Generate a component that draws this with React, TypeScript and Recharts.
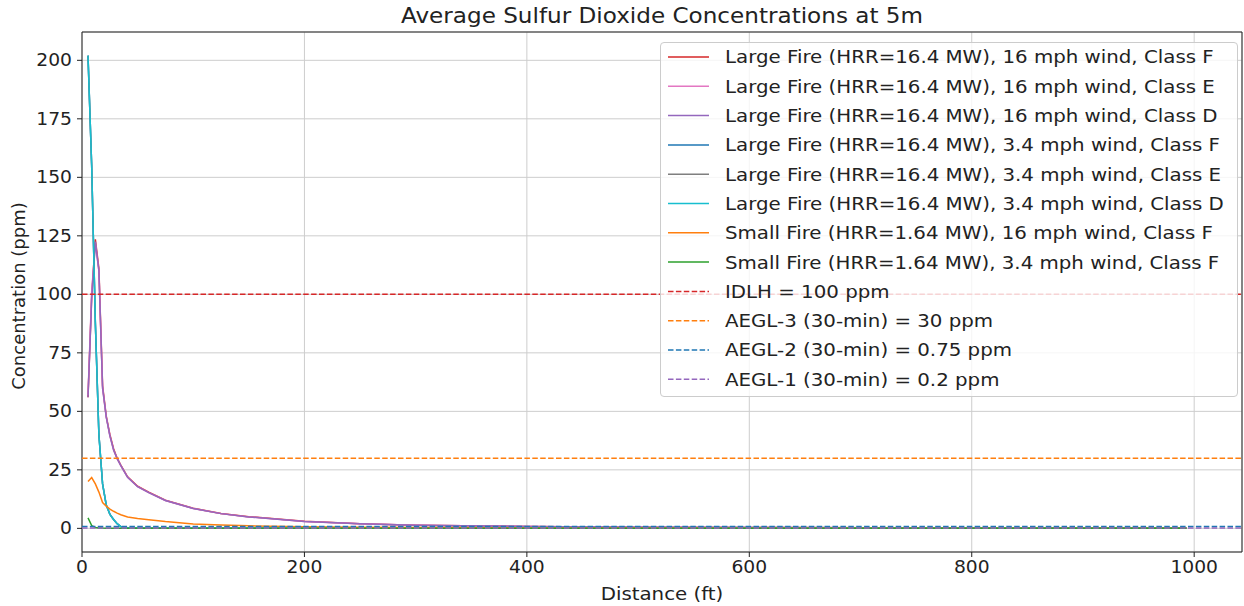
import React from "react";
import {
  LineChart,
  Line,
  XAxis,
  YAxis,
  CartesianGrid,
  Legend,
  ReferenceLine,
  ReferenceArea,
} from "recharts";

// distance from source (ft)
const distances = [
  5.4, 8.7, 12.0, 15.2, 18.5, 21.8, 25.1, 28.4, 31.6, 34.9, 41, 50, 60, 75, 100, 125, 150, 200, 250, 300,
  400, 500, 600, 800, 993,
];

// SO2 concentration (ppm) for each scenario
const largeF16 = [56, 99, 123.5, 111, 61, 48, 40, 34, 30, 27, 22, 18, 15.5, 12, 8.6, 6.4, 5.0, 3.0, 2.0, 1.35, 0.8, 0.5, 0.35, 0.2, 0.12];
const largeE16 = [57, 101, 122, 110, 60, 47.5, 39.5, 33.5, 29.8, 26.8, 21.8, 17.8, 15.3, 11.9, 8.5, 6.3, 4.9, 2.95, 1.95, 1.3, 0.78, 0.5, 0.34, 0.2, 0.12];
const largeD16 = [56, 98, 122.5, 110, 60, 47.5, 39.5, 33.5, 29.8, 26.8, 21.8, 17.8, 15.3, 11.9, 8.5, 6.3, 4.9, 2.95, 1.95, 1.3, 0.78, 0.5, 0.34, 0.2, 0.12];
const largeF34 = [202, 155, 88, 40, 19, 10, 6, 3.8, 2, 0.8, 0.3, 0.15, 0.1, 0.08, 0.06, 0.05, 0.05, 0.04, 0.04, 0.03, 0.03, 0.02, 0.02, 0.02, 0.02];
const largeE34 = [202, 155, 88, 40, 19, 10, 6, 3.8, 2, 0.8, 0.3, 0.15, 0.1, 0.08, 0.06, 0.05, 0.05, 0.04, 0.04, 0.03, 0.03, 0.02, 0.02, 0.02, 0.02];
const largeD34 = [202, 155, 88, 40, 19, 10, 6, 3.8, 2, 0.8, 0.3, 0.15, 0.1, 0.08, 0.06, 0.05, 0.05, 0.04, 0.04, 0.03, 0.03, 0.02, 0.02, 0.02, 0.02];
const smallF16 = [20, 21.7, 19, 15.5, 11, 9.5, 8.2, 7.3, 6.5, 5.8, 4.9, 4.2, 3.7, 2.9, 1.9, 1.4, 1.1, 0.7, 0.5, 0.35, 0.2, 0.15, 0.1, 0.07, 0.05];
const smallF34 = [4.5, 1.2, 0.4, 0.2, 0.12, 0.1, 0.08, 0.07, 0.06, 0.05, 0.04, 0.03, 0.03, 0.02, 0.02, 0.02, 0.01, 0.01, 0.01, 0.01, 0.01, 0.01, 0.01, 0.01, 0.01];

const seriesNames = [
  "Large Fire (HRR=16.4 MW), 16 mph wind, Class F",
  "Large Fire (HRR=16.4 MW), 16 mph wind, Class E",
  "Large Fire (HRR=16.4 MW), 16 mph wind, Class D",
  "Large Fire (HRR=16.4 MW), 3.4 mph wind, Class F",
  "Large Fire (HRR=16.4 MW), 3.4 mph wind, Class E",
  "Large Fire (HRR=16.4 MW), 3.4 mph wind, Class D",
  "Small Fire (HRR=1.64 MW), 16 mph wind, Class F",
  "Small Fire (HRR=1.64 MW), 3.4 mph wind, Class F",
];
const seriesColors = ["#d62728", "#e377c2", "#9467bd", "#1f77b4", "#7f7f7f", "#17becf", "#ff7f0e", "#2ca02c"];
const seriesValues = [largeF16, largeE16, largeD16, largeF34, largeE34, largeD34, smallF16, smallF34];

// exposure limits
const limitNames = ["IDLH = 100 ppm", "AEGL-3 (30-min) = 30 ppm", "AEGL-2 (30-min) = 0.75 ppm", "AEGL-1 (30-min) = 0.2 ppm"];
const limitValues = [100, 30, 0.75, 0.2];
const limitColors = ["#d62728", "#ff7f0e", "#1f77b4", "#9467bd"];

const xTicks = [0, 200, 400, 600, 800, 1000];
const yTicks = [0, 25, 50, 75, 100, 125, 150, 175, 200];

const data = distances.map((x, i) => {
  const row: Record<string, number> = { x };
  seriesValues.forEach((vals, s) => {
    row["s" + s] = vals[i];
  });
  return row;
});

const FONT = "'DejaVu Sans', sans-serif";
const INK = "#222";
const STRETCH = 1.1; // the source image is a bit wider than tall
const X_DOMAIN: [number, number] = [0, 1043];
const Y_DOMAIN: [number, number] = [-10.1, 212.1];
const DASH = "5.5 2.4";

const XTick = (props: any) => {
  const { x, y, payload } = props;
  return (
    <text
      transform={`translate(${x},${y}) scale(${STRETCH},1)`}
      textAnchor="middle"
      dy="0.71em"
      fontFamily={FONT}
      fontSize={17}
      fill={INK}
    >
      {payload.value}
    </text>
  );
};

const YTick = (props: any) => {
  const { x, y, payload } = props;
  return (
    <text
      transform={`translate(${x},${y}) scale(${STRETCH},1)`}
      textAnchor="end"
      dy="0.36em"
      fontFamily={FONT}
      fontSize={17}
      fill={INK}
    >
      {payload.value}
    </text>
  );
};

const XLabel = (props: any) => {
  const { x, y, width, height } = props.viewBox;
  return (
    <text
      transform={`translate(${x + width / 2},${y + height - 6}) scale(${STRETCH},1)`}
      textAnchor="middle"
      fontFamily={FONT}
      fontSize={18}
      fill={INK}
    >
      Distance (ft)
    </text>
  );
};

const renderLegend = () => {
  const items = [
    ...seriesNames.map((n, i) => ({ name: n, color: seriesColors[i], dashed: false })),
    ...limitNames.map((n, i) => ({ name: n, color: limitColors[i], dashed: true })),
  ];
  return (
    <div
      style={{
        width: 578,
        height: 355,
        boxSizing: "border-box",
        background: "rgba(255,255,255,0.8)",
        border: "1px solid #cccccc",
        borderRadius: 4,
      }}
    >
      <svg width={576} height={353} style={{ display: "block" }}>
        {items.map((it, i) => {
          const y = 14 + i * 29.3;
          return (
            <g key={it.name}>
              <line
                x1={7}
                x2={48}
                y1={y}
                y2={y}
                stroke={it.color}
                strokeWidth={1.5}
                strokeDasharray={it.dashed ? DASH : undefined}
              />
              <text
                transform={`translate(64,${y}) scale(${STRETCH},1)`}
                dy="0.36em"
                fontFamily={FONT}
                fontSize={18}
                fill={INK}
              >
                {it.name}
              </text>
            </g>
          );
        })}
      </svg>
    </div>
  );
};

const App: React.FC = () => {
  return (
    <div style={{ position: "absolute", left: 0, top: 0, width: 1244, height: 606, background: "#fff" }}>
      <div
        style={{
          position: "absolute",
          left: 82,
          width: 1160,
          top: 3,
          textAlign: "center",
          fontFamily: FONT,
          fontSize: 21,
          color: INK,
          lineHeight: "26px",
          transform: `scaleX(${STRETCH})`,
          transformOrigin: "580px 0",
        }}
      >
        Average Sulfur Dioxide Concentrations at 5m
      </div>
      <LineChart width={1244} height={606} data={data} margin={{ top: 32, right: 2, left: 0, bottom: 0 }}>
        <CartesianGrid stroke="#cdcdcd" strokeWidth={1} />
        <XAxis
          dataKey="x"
          type="number"
          domain={X_DOMAIN}
          ticks={xTicks}
          allowDataOverflow
          height={54}
          axisLine={false}
          tickSize={5}
          tickMargin={4}
          tickLine={{ stroke: INK }}
          tick={<XTick />}
          label={<XLabel />}
        />
        <YAxis
          type="number"
          domain={Y_DOMAIN}
          ticks={yTicks}
          allowDataOverflow
          width={82}
          axisLine={false}
          tickSize={5}
          tickMargin={5}
          tickLine={{ stroke: INK }}
          tick={<YTick />}
          label={{
            value: "Concentration (ppm)",
            angle: -90,
            position: "center",
            dx: -22,
            dy: 4,
            fontFamily: FONT,
            fontSize: 18,
            fill: INK,
          }}
        />
        {seriesNames.map((n, i) => (
          <Line
            key={n}
            name={n}
            type="linear"
            dataKey={"s" + i}
            stroke={seriesColors[i]}
            strokeWidth={1.5}
            dot={false}
            isAnimationActive={false}
          />
        ))}
        {limitValues.map((v, i) => (
          <ReferenceLine key={limitNames[i]} y={v} stroke={limitColors[i]} strokeWidth={1.5} strokeDasharray={DASH} />
        ))}
        <ReferenceArea
          x1={X_DOMAIN[0]}
          x2={X_DOMAIN[1]}
          y1={Y_DOMAIN[0]}
          y2={Y_DOMAIN[1]}
          fill="none"
          fillOpacity={0}
          stroke={INK}
          strokeWidth={1}
        />
        <Legend
          layout="horizontal"
          verticalAlign="middle"
          align="center"
          content={renderLegend}
          wrapperStyle={{ left: 660, top: 42, width: 578, height: 355 }}
        />
      </LineChart>
    </div>
  );
};

export default App;
